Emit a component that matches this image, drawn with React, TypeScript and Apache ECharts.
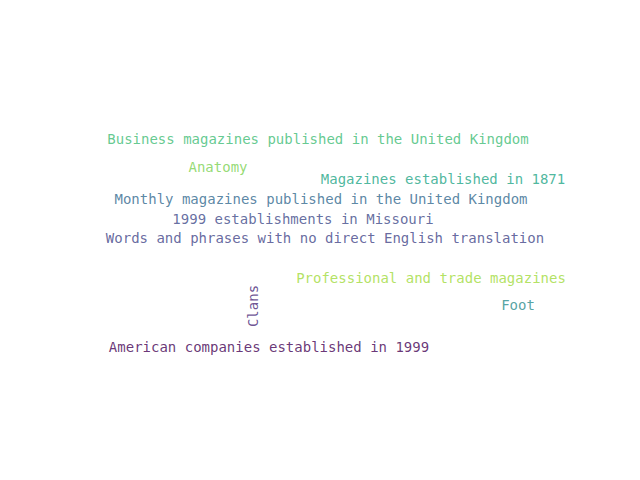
import { useEffect, useRef } from "react";
import * as echarts from "echarts";

// word cloud: text, center x/y (in 640x480 layout units), colour, rotation
const words = [
  "Business magazines published in the United Kingdom",
  "Anatomy",
  "Magazines established in 1871",
  "Monthly magazines published in the United Kingdom",
  "1999 establishments in Missouri",
  "Words and phrases with no direct English translation",
  "Professional and trade magazines",
  "Foot",
  "Clans",
  "American companies established in 1999",
];
const xs = [318, 218, 443, 321, 303, 325, 431, 518, 253, 269];
const ys = [139, 167, 179, 199, 219, 238, 278, 305, 306, 347];
const colors = ["#3dbc74", "#7ad151", "#21a585", "#31688e", "#3e4a89", "#414487", "#a0da3a", "#2a8c8c", "#482878", "#440154"];
const rotations = [0, 0, 0, 0, 0, 0, 0, 0, 90, 0];

export default function App() {
  const ref = useRef<HTMLDivElement>(null);
  useEffect(() => {
    if (!ref.current) return;
    const chart = echarts.init(ref.current, undefined, { renderer: "svg" });
    chart.setOption({
      animation: false,
      backgroundColor: "#ffffff",
      grid: { left: 0, right: 0, top: 0, bottom: 0 },
      xAxis: { type: "value", min: 0, max: 640, show: false },
      yAxis: { type: "value", min: 0, max: 480, inverse: true, show: false },
      series: [
        {
          type: "scatter",
          symbolSize: 0,
          data: words.map((w, i) => ({
            name: w,
            value: [xs[i], ys[i]],
            label: {
              show: true,
              position: "inside",
              formatter: w,
              color: colors[i],
              rotate: rotations[i],
              fontFamily: "DejaVu Sans Mono",
              fontSize: 14,
            },
          })),
        },
      ],
    });
    return () => chart.dispose();
  }, []);
  return <div ref={ref} style={{ width: 640, height: 480, margin: -8 }} />;
}
